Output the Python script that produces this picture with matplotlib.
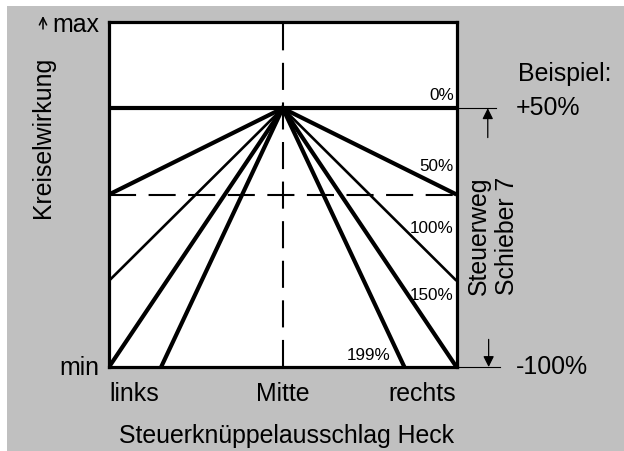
import matplotlib.pyplot as plt
from matplotlib.patches import Rectangle, FancyArrowPatch

plt.rcParams['font.family'] = ['Liberation Sans', 'DejaVu Sans']

# Kennlinien: Schieberstellung -> Endpunkt rechts (links gespiegelt)
settings = ["0%", "50%", "100%", "150%", "199%"]
end_x = [1.0, 1.0, 1.0, 1.0, 0.70]
end_y = [0.75, 0.50, 0.25, 0.0, 0.0]
apex_y = 0.75
label_y = [0.79, 0.585, 0.405, 0.21, 0.035]
label_x = [0.985, 0.985, 0.985, 0.985, 0.62]

x_ticks = [-1.0, 0.0, 1.0]
x_labels = ["links", "Mitte", "rechts"]

W, H = 624, 452
fig = plt.figure(figsize=(W / 100, H / 100), dpi=100, facecolor='white')
fig.patches.append(Rectangle((7 / W, 0), 1, 1 - 7 / H, transform=fig.transFigure,
                             facecolor='#c0c0c0', edgecolor='none', zorder=-10))

# Achsen in Pixeln
left, right, top, bottom = 109, 456.5, 23, 368
ax = fig.add_axes([left / W, 1 - bottom / H, (right - left) / W, (bottom - top) / H])
ax.set_xlim(-1, 1)
ax.set_ylim(0, 1)
ax.set_facecolor('white')
for s in ax.spines.values():
    s.set_linewidth(2.3)
ax.set_xticks([])
ax.set_yticks([])

# Hilfslinien (gestrichelt)
ax.axvline(0, color='black', lw=1.5, dashes=(13, 6), zorder=1)
ax.axhline(0.5, color='black', lw=1.5, dashes=(13, 6), zorder=1)

for name, ex, ey in zip(settings, end_x, end_y):
    lw = 1.9 if name == "100%" else 3.0
    ax.plot([-ex, 0, ex], [ey, apex_y, ey], color='black', lw=lw,
            solid_joinstyle='miter', solid_capstyle='butt', zorder=3)

for name, lx, ly in zip(settings, label_x, label_y):
    ax.text(lx, ly, name, ha='right', va='center', fontsize=12.3, zorder=4)

big = 17.9
for xv, lab in zip(x_ticks, x_labels):
    ha = {-1.0: 'left', 0.0: 'center', 1.0: 'right'}[xv]
    ax.text(xv, -0.04, lab, ha=ha, va='top', fontsize=big)

ax.text(-1.055, 0, "min", ha='right', va='center', fontsize=big)
ax.text(-1.055, 0.995, "max", ha='right', va='center', fontsize=big)
fig.text(43 / W, 1 - 137 / H, "Kreiselwirkung", rotation=90,
         ha='center', va='center', fontsize=big)
# kleiner Pfeil nach oben an der y-Achse
fig.patches.append(FancyArrowPatch(
    (43 / W, 1 - 30 / H), (43 / W, 1 - 17 / H), transform=fig.transFigure,
    arrowstyle='->', mutation_scale=13, lw=1.1, color='black',
    shrinkA=0, shrinkB=0))
fig.text(287 / W, 1 - 436 / H, "Steuerknüppelausschlag Heck",
         ha='center', va='center', fontsize=big)

# Beispiel rechts: Schieberweg +50% ... -100%
ax.plot([1, 1.23], [apex_y, apex_y], color='black', lw=0.8, clip_on=False)
ax.plot([1, 1.25], [0, 0], color='black', lw=0.8, clip_on=False)
ax.annotate("", xy=(1.18, apex_y), xytext=(1.18, 0.665), annotation_clip=False,
            arrowprops=dict(arrowstyle='-|>', color='black', lw=0.9,
                            mutation_scale=16, shrinkA=0, shrinkB=0))
ax.annotate("", xy=(1.185, 0), xytext=(1.185, 0.08), annotation_clip=False,
            arrowprops=dict(arrowstyle='-|>', color='black', lw=0.9,
                            mutation_scale=16, shrinkA=0, shrinkB=0))
fig.text(518 / W, 1 - 74 / H, "Beispiel:", ha='left', va='center', fontsize=big)
fig.text(516 / W, 1 - 108 / H, "+50%", ha='left', va='center', fontsize=big)
fig.text(516 / W, 1 - 367 / H, "-100%", ha='left', va='center', fontsize=big)
fig.text(493 / W, 1 - 236 / H, "Steuerweg\nSchieber 7", rotation=90,
         ha='center', va='center', fontsize=big, linespacing=1.2)

fig.savefig("out.png", dpi=100, facecolor=fig.get_facecolor())
